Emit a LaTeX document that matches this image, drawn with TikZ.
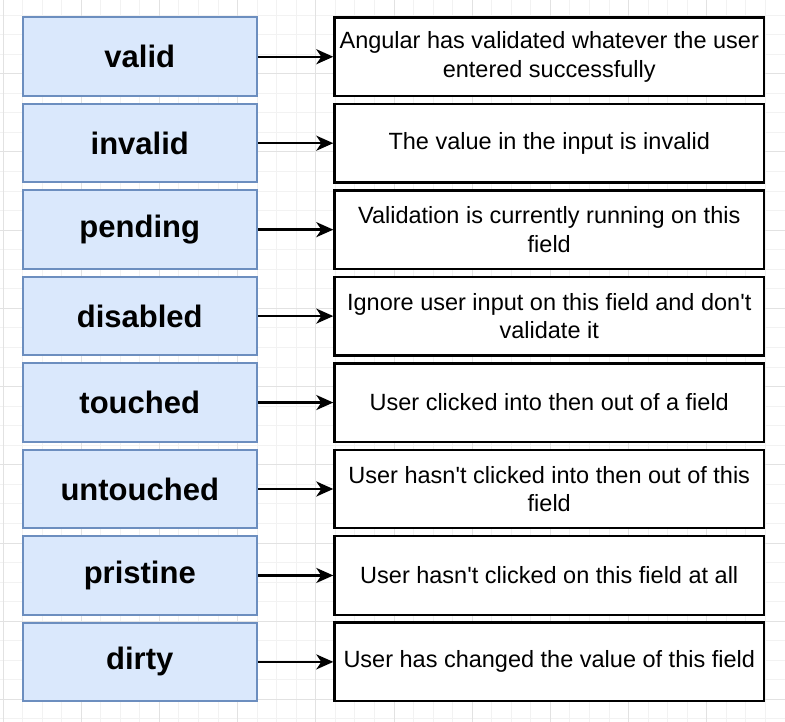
\documentclass[tikz,border=0pt]{standalone}
\usepackage{fontspec}
\setmainfont{Liberation Sans}
\usetikzlibrary{arrows.meta}
\definecolor{stateblue}{HTML}{DAE8FC}
\definecolor{stateedge}{HTML}{6C8EBF}
\definecolor{gridminor}{HTML}{F2F2F2}
\definecolor{gridmajor}{HTML}{E2E2E2}
\tikzset{
  state/.style={draw=stateedge, fill=stateblue, line width=2pt,
    minimum width=234.5pt, minimum height=78.5pt, inner sep=0pt,
    font=\fontsize{31}{36}\selectfont\bfseries},
  desc/.style={draw=black, fill=white, line width=2.4pt,
    minimum width=429.5pt, minimum height=78.5pt, inner sep=0pt,
    align=center, font=\fontsize{23.5}{28.5}\selectfont},
  link/.style={-{Stealth[length=17pt,width=15pt,inset=5pt]}, line width=2.3pt}
}
\begin{document}
\begin{tikzpicture}[x=1pt,y=-1pt]
  \useasboundingbox (0,0) rectangle (785,722);
  % background grid
  \foreach \i in {0,...,40}{
    \draw[gridminor, line width=1pt] (3+19.55*\i,0) -- (3+19.55*\i,722);
    \draw[gridminor, line width=1pt] (0,-4.4+19.55*\i) -- (785,-4.4+19.55*\i);
  }
  \foreach \i in {0,...,10}{
    \draw[gridmajor, line width=1pt] (3+78.2*\i,0) -- (3+78.2*\i,722);
    \draw[gridmajor, line width=1pt] (0,-4.4+78.2*\i) -- (785,-4.4+78.2*\i);
  }
  \draw
    (139.75,56.75) node[state] (s0){valid}
    (139.75,143.2) node[state] (s1){invalid}
    (139.75,229.65) node[state] (s2){pending}
    (139.75,316.1) node[state] (s3){disabled}
    (139.75,402.55) node[state] (s4){touched}
    (139.75,489.0) node[state] (s5){untouched}
    (139.75,575.45) node[state] (s6){pristine}
    (139.75,661.9) node[state] (s7){dirty};
  \draw
    (549.25,56.75) node[desc] (d0){Angular has validated whatever the user\\entered successfully}
    (549.25,143.2) node[desc] (d1){The value in the input is invalid}
    (549.25,229.65) node[desc] (d2){Validation is currently running on this\\field}
    (549.25,316.1) node[desc] (d3){Ignore user input on this field and don\textquotesingle t\\validate it}
    (549.25,402.55) node[desc] (d4){User clicked into then out of a field}
    (549.25,489.0) node[desc] (d5){User hasn\textquotesingle t clicked into then out of this\\field}
    (549.25,575.45) node[desc] (d6){User hasn\textquotesingle t clicked on this field at all}
    (549.25,661.9) node[desc] (d7){User has changed the value of this field};
  \begin{scope}[link]
    \draw (s0) to (d0);
    \draw (s1) to (d1);
    \draw (s2) to (d2);
    \draw (s3) to (d3);
    \draw (s4) to (d4);
    \draw (s5) to (d5);
    \draw (s6) to (d6);
    \draw (s7) to (d7);
  \end{scope}
\end{tikzpicture}
\end{document}
